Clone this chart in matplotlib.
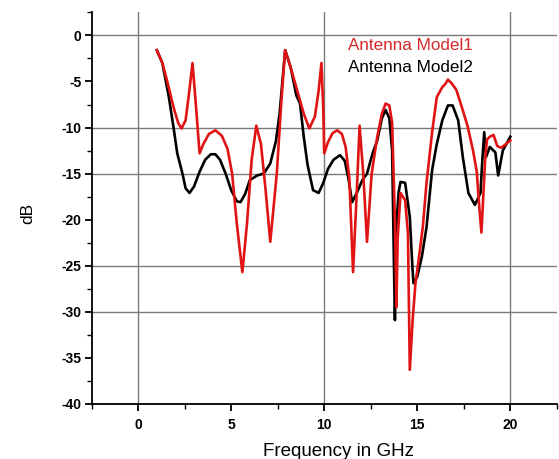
import matplotlib
matplotlib.use("Agg")
import matplotlib.pyplot as plt
from matplotlib.ticker import MultipleLocator

plt.rcParams['font.family'] = ['Liberation Sans', 'DejaVu Sans']
plt.rcParams['axes.unicode_minus'] = False

# Antenna Model1 (red)
freq1 = [1.0, 1.3, 1.55, 1.9, 2.15, 2.33, 2.55, 2.75, 2.92, 3.08, 3.3, 3.5, 3.8, 4.15,
         4.5, 4.8, 5.05, 5.3, 5.6, 5.85, 6.1, 6.35, 6.6, 6.85, 7.1, 7.45, 7.7, 7.9,
         8.2, 8.55, 8.9, 9.2, 9.5, 9.7, 9.85, 9.95, 10.0, 10.2, 10.45, 10.7, 10.95,
         11.15, 11.35, 11.55, 11.75, 11.9, 12.1, 12.3, 12.55, 12.85, 13.1, 13.3, 13.5,
         13.65, 13.8, 13.88, 13.95, 14.1, 14.35, 14.5, 14.6, 14.75, 14.9, 15.1, 15.3,
         15.5, 15.8, 16.05, 16.35, 16.5, 16.65, 16.85, 17.1, 17.4, 17.7, 18.0, 18.2,
         18.35, 18.45, 18.55, 18.65, 18.75, 18.9, 19.1, 19.3, 19.5, 19.7, 20.0]
db1 = [-1.6, -3.0, -4.9, -7.8, -9.5, -10.1, -9.2, -6.0, -3.0, -7.0, -12.8, -11.8, -10.7, -10.3,
       -10.9, -12.3, -15.0, -20.4, -25.7, -20.4, -13.5, -9.8, -11.8, -16.8, -22.4, -15.0, -7.0, -1.6,
       -3.5, -6.0, -8.5, -10.1, -8.8, -6.0, -3.0, -8.0, -12.8, -11.6, -10.6, -10.3, -10.7,
       -12.1, -15.5, -25.7, -17.0, -9.8, -15.0, -22.4, -15.0, -11.0, -8.5, -7.4, -7.6,
       -9.5, -20.0, -29.5, -22.0, -17.1, -17.9, -21.5, -36.3, -31.0, -27.0, -24.0, -20.8,
       -16.0, -10.5, -6.7, -5.6, -5.3, -4.8, -5.2, -5.9, -7.8, -9.8, -12.5, -14.8,
       -19.0, -21.4, -17.5, -13.5, -11.3, -11.0, -10.8, -12.0, -12.2, -11.9, -11.4]

# Antenna Model2 (black)
freq2 = [1.0, 1.3, 1.65, 1.9, 2.1, 2.38, 2.55, 2.76, 3.0, 3.3, 3.6, 3.9, 4.15, 4.4,
         4.7, 5.0, 5.3, 5.5, 5.75, 6.0, 6.4, 6.75, 7.1, 7.4, 7.6, 7.9, 8.2, 8.5,
         8.7, 8.9, 9.1, 9.4, 9.7, 9.95, 10.2, 10.5, 10.85, 11.1, 11.3, 11.5, 11.75,
         12.05, 12.3, 12.6, 12.85, 13.1, 13.3, 13.5, 13.65, 13.75, 13.8, 13.9, 14.0,
         14.1, 14.35, 14.6, 14.75, 14.8, 15.0, 15.25, 15.5, 15.8, 16.05, 16.35, 16.65,
         16.9, 17.2, 17.45, 17.75, 18.1, 18.4, 18.5, 18.6, 18.7, 18.9, 19.2, 19.35,
         19.6, 20.0]
db2 = [-1.6, -3.0, -6.7, -10.0, -12.8, -15.0, -16.6, -17.1, -16.4, -14.8, -13.5, -12.9, -12.9, -13.5,
       -15.0, -16.8, -18.0, -18.1, -17.2, -15.7, -15.2, -15.0, -13.9, -11.5, -8.5, -1.6, -3.5, -6.5,
       -7.4, -11.0, -14.0, -16.8, -17.1, -16.0, -14.5, -13.5, -13.0, -13.6, -15.5, -18.1, -17.1,
       -15.7, -15.0, -12.8, -11.4, -9.0, -8.1, -9.0, -12.5, -25.0, -30.9, -20.0, -17.0,
       -15.9, -16.0, -19.7, -25.5, -26.9, -26.2, -24.0, -20.8, -14.6, -11.8, -9.2, -7.6,
       -7.6, -9.2, -13.2, -17.1, -18.4, -17.1, -13.5, -10.5, -13.2, -12.1, -12.7, -15.2,
       -12.5, -11.0]

series_names = ["Antenna Model1", "Antenna Model2"]
hgrid = [0, -10, -15, -25, -30]
vgrid = [0, 10, 20]

RED = '#e01414'

fig = plt.figure(figsize=(5.59, 4.59), dpi=100)
ax = fig.add_axes([0.164, 0.12, 0.832, 0.853])

for y in hgrid:
    ax.axhline(y, color='#7a7a7a', lw=1.0, zorder=1)
for x in vgrid:
    ax.axvline(x, color='#7a7a7a', lw=1.0, zorder=1)

ax.plot(freq2, db2, color='black', lw=1.9, zorder=3)
ax.plot(freq1, db1, color=RED, lw=1.9, zorder=4)

ax.set_xlim(-2.5, 22.5)
ax.set_ylim(-40, 2.5)

for s in ['top', 'right']:
    ax.spines[s].set_visible(False)
for s in ['left', 'bottom']:
    ax.spines[s].set_linewidth(1.3)

ax.xaxis.set_major_locator(MultipleLocator(5))
ax.xaxis.set_minor_locator(MultipleLocator(2.5))
ax.yaxis.set_major_locator(MultipleLocator(5))
ax.yaxis.set_minor_locator(MultipleLocator(2.5))
ax.tick_params(which='major', direction='out', length=5, width=1.3, labelsize=10)
ax.tick_params(axis='x', which='major', pad=5)
ax.tick_params(axis='y', which='major', pad=2.5)
ax.tick_params(which='minor', direction='out', length=3.5, width=1.0)
for lab in ax.get_xticklabels() + ax.get_yticklabels():
    lab.set_fontweight('bold')

fig.text(338.5 / 559, 1 - 451 / 459, "Frequency in GHz", fontsize=13.5,
         ha='center', va='center')
fig.text(28 / 559, 1 - 213 / 459, "dB", fontsize=12.5, rotation=90,
         ha='center', va='center')

ax.text(0.551, 0.9165, series_names[0], transform=ax.transAxes, color='#d42a2a',
        fontsize=12.3, va='center', ha='left')
ax.text(0.551, 0.858, series_names[1], transform=ax.transAxes, color='black',
        fontsize=12.3, va='center', ha='left')

fig.savefig("out.png", dpi=100)
